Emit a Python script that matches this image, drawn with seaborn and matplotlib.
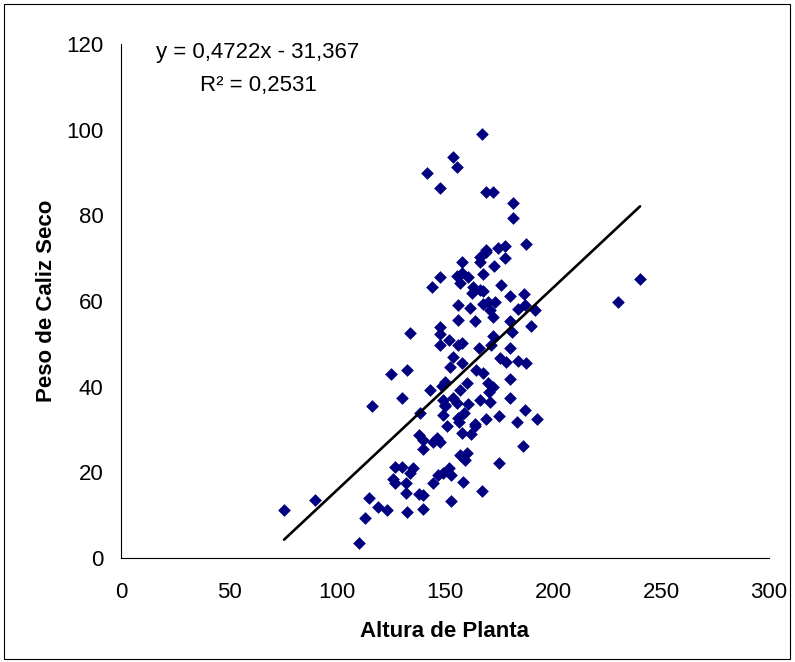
import matplotlib
matplotlib.use("Agg")
import matplotlib.pyplot as plt
import seaborn as sns
import numpy as np
import pandas as pd

# ---- data ----
altura = [75.5, 90, 110, 116, 115, 119, 123, 113, 132, 132.4, 139.8, 138, 140, 127, 130,
          126, 127, 135, 134, 132, 144.5, 153, 138, 140, 140, 144.5, 146.5, 147.7, 138.4, 149,
          151, 150, 152, 149, 146.8, 153, 147.7, 144, 133.8, 147.7, 147.7, 151.9, 147.7, 153.7,
          152.5, 132.4, 125, 130.3, 150, 143, 148.6, 153.7, 155.6, 141.7, 147.7, 167, 169, 172,
          181.5, 181.5, 187.5, 169, 174.5, 178, 169, 166, 166, 178, 158, 172.5, 155.5, 158,
          160.6, 157, 167.6, 163, 162.5, 166, 167.6, 176, 180, 186.6, 156, 161.6, 167.6, 170,
          173, 171, 172.4, 183.8, 187, 191.7, 156, 164, 180, 190, 156, 158, 165.7, 172.2,
          171.3, 180, 181, 175.5, 178.2, 183.8, 187.5, 157.8, 164.4, 167.6, 180, 160.2, 170,
          172.2, 157, 170.4, 149, 153.7, 166, 171, 155.5, 160.6, 180, 150, 159, 156, 175, 169,
          163.9, 187, 183.3, 192.6, 156.5, 163.9, 158, 162, 186, 157, 160, 159.3, 175, 158.3,
          167, 230, 240.3]
peso = [11.2, 13.6, 3.5, 35.6, 14, 12, 11.2, 9.3, 15.2, 10.7, 11.5, 15, 14.8, 21.3, 21.3,
        18.5, 17.5, 21, 19.8, 17.5, 17.5, 13.3, 28.7, 27.5, 25.4, 27, 28, 27, 33.8, 33.4,
        30.8, 35.8, 21, 19.8, 19.4, 19.4, 65.6, 63.3, 52.5, 54, 52.3, 51, 49.8, 47,
        44.5, 44, 43, 37.4, 41, 39.2, 40.2, 93.6, 91.3, 89.9, 86.4, 99, 85.5, 85.5,
        82.9, 79.4, 73.3, 72, 72.3, 72.8, 71.4, 70.3, 69, 70, 69, 68.2, 65.8, 66.5,
        65.6, 64.2, 66.2, 63.3, 61.9, 62.6, 62.3, 63.7, 61.2, 61.6, 59, 58.4, 59.3, 59.8,
        59.8, 57.9, 56.3, 58.1, 59, 57.9, 55.6, 55.3, 55.3, 54.2, 49.7, 50.2, 49, 51.8,
        49.7, 49, 52.8, 46.7, 45.8, 46, 45.5, 45.5, 43.9, 43.2, 41.8, 40.9, 40.9,
        39.9, 39.2, 38.8, 36.9, 37.4, 36.9, 36.4, 36.2, 36, 37.4, 35.5, 33.8, 32.7, 33.2, 32.5,
        31.3, 34.6, 31.8, 32.5, 31.8, 30.8, 29.2, 29, 26.1, 24, 24.5, 22.9, 22.2, 17.7,
        15.6, 59.8, 65.1]

trend_slope = 0.4722
trend_intercept = -31.367
equation_text = "y = 0,4722x - 31,367"
r2_text = "R\u00b2 = 0,2531"

x_ticks = [0, 50, 100, 150, 200, 250, 300]
y_ticks = [0, 20, 40, 60, 80, 100, 120]
x_label = "Altura de Planta"
y_label = "Peso de Caliz Seco"

df = pd.DataFrame({"Altura": altura, "Peso": peso})
x_line = np.array([min(altura), max(altura)])
trend = pd.DataFrame({"x": x_line, "y": trend_slope * x_line + trend_intercept})

# ---- plot ----
sns.set_style("white")
plt.rcParams["font.family"] = ["Liberation Sans", "DejaVu Sans"]
plt.rcParams["text.color"] = "black"
plt.rcParams["axes.labelcolor"] = "black"

FS = 16

fig = plt.figure(figsize=(7.95, 6.62), dpi=100)
ax = fig.add_axes([121 / 795, 1 - 558 / 662, (769 - 121) / 795, (558 - 44) / 662])

sns.scatterplot(data=df, x="Altura", y="Peso", marker="D", s=42, color="#000080",
                edgecolor="#000080", linewidth=0, ax=ax, zorder=2)
sns.lineplot(data=trend, x="x", y="y", color="black", linewidth=1.9, ax=ax, zorder=3)

ax.set_xlim(0, 300)
ax.set_ylim(0, 120)
ax.set_xticks(x_ticks)
ax.set_yticks(y_ticks)
ax.tick_params(axis="both", which="both", direction="out", length=4.5, width=0.8,
               labelsize=FS, colors="black", labelcolor="black")
ax.tick_params(axis="x", pad=13)
ax.tick_params(axis="y", pad=8)
for side in ["top", "right"]:
    ax.spines[side].set_visible(False)
for side in ["left", "bottom"]:
    ax.spines[side].set_visible(True)
    ax.spines[side].set_color("black")
    ax.spines[side].set_linewidth(0.8)

ax.set_xlabel(x_label, fontsize=FS, fontweight="bold", labelpad=13, color="black")
ax.set_ylabel(y_label, fontsize=FS, fontweight="bold", labelpad=7, color="black")

ax.text(63.4, 118.1, equation_text, ha="center", va="center", fontsize=FS, color="black")
ax.text(63.4, 110.4, r2_text, ha="center", va="center", fontsize=FS, color="black")

# chart-area border
fig.patches.append(plt.Rectangle((4 / 795, 3 / 662), 786 / 795, 655 / 662,
                                 transform=fig.transFigure, fill=False,
                                 edgecolor="black", linewidth=0.8))

fig.savefig("out.png", dpi=100, facecolor="white")
